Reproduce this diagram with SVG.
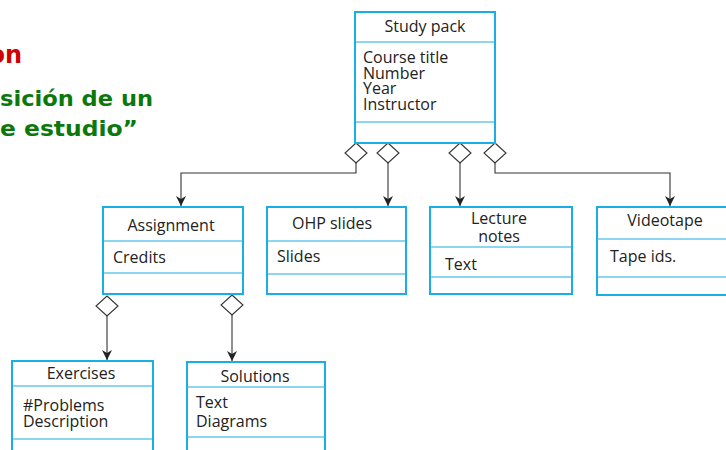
<svg xmlns="http://www.w3.org/2000/svg" width="726" height="450" viewBox="0 0 726 450">
<defs>
<style>
.box{fill:#fff;stroke:#1aaee6;stroke-width:2}
.div{stroke:#1aaee6;stroke-width:1.2;fill:none}
.t{font-family:"Open Sans","Noto Sans","Liberation Sans",sans-serif;font-size:16px;fill:#222}
.c{text-anchor:middle}
.ln{fill:none;stroke:#333;stroke-width:1.1}
.dia{fill:#fff;stroke:#333;stroke-width:1.1}
.ttl{font-family:"DejaVu Sans",Verdana,sans-serif;font-weight:bold}
</style>
<marker id="arr" viewBox="0 0 10 16" refX="10" refY="8" markerWidth="10" markerHeight="16" markerUnits="userSpaceOnUse" orient="auto">
<path d="M0,3 L10,8 L0,13 L3,8 Z" fill="#222"/>
</marker>
</defs>
<rect width="726" height="450" fill="#fff"/>

<text class="ttl" x="22" y="63" font-size="24" fill="#d00000" text-anchor="end">on</text>
<text class="ttl" x="0" y="106" font-size="21" fill="#0b780b" textLength="153" lengthAdjust="spacingAndGlyphs">sición de un</text>
<text class="ttl" x="0" y="136" font-size="21" fill="#0b780b" textLength="138" lengthAdjust="spacingAndGlyphs">e estudio”</text>

<g id="connectors">
<polygon class="dia" points="356,143 367,153 356,163 345,153"/>
<polyline class="ln" points="356,163 356,173 181,173 181,206" marker-end="url(#arr)"/>
<polygon class="dia" points="388,143 399,153 388,163 377,153"/>
<line class="ln" x1="388" y1="163" x2="388" y2="206" marker-end="url(#arr)"/>
<polygon class="dia" points="460,143 471,153 460,163 449,153"/>
<line class="ln" x1="460" y1="163" x2="460" y2="206" marker-end="url(#arr)"/>
<polygon class="dia" points="495,143 506,153 495,163 484,153"/>
<polyline class="ln" points="495,163 495,173 670,173 670,206" marker-end="url(#arr)"/>
<polygon class="dia" points="107,296 118,306 107,316 96,306"/>
<line class="ln" x1="107" y1="316" x2="107" y2="360" marker-end="url(#arr)"/>
<polygon class="dia" points="232,295 243,305 232,315 221,305"/>
<line class="ln" x1="232" y1="315" x2="232" y2="361" marker-end="url(#arr)"/>
</g>

<g id="study-pack">
<rect class="box" x="355" y="12" width="140" height="131"/>
<line class="div" x1="355" y1="42" x2="495" y2="42"/>
<line class="div" x1="355" y1="122" x2="495" y2="122"/>
<text class="t c" x="425" y="32">Study pack</text>
<text class="t" x="363" y="63">Course title</text>
<text class="t" x="363" y="78.5">Number</text>
<text class="t" x="363" y="94">Year</text>
<text class="t" x="363" y="109.5">Instructor</text>
</g>

<g id="assignment">
<rect class="box" x="103" y="207" width="140" height="87"/>
<line class="div" x1="103" y1="241" x2="243" y2="241"/>
<line class="div" x1="103" y1="273" x2="243" y2="273"/>
<text class="t c" x="171" y="231">Assignment</text>
<text class="t" x="113" y="263">Credits</text>
</g>

<g id="ohp-slides">
<rect class="box" x="267" y="207" width="139" height="87"/>
<line class="div" x1="267" y1="241" x2="406" y2="241"/>
<line class="div" x1="267" y1="274" x2="406" y2="274"/>
<text class="t c" x="332" y="229">OHP slides</text>
<text class="t" x="277" y="262">Slides</text>
</g>

<g id="lecture-notes">
<rect class="box" x="430" y="207" width="142" height="87"/>
<line class="div" x1="430" y1="247" x2="572" y2="247"/>
<line class="div" x1="430" y1="277" x2="572" y2="277"/>
<text class="t c" x="499" y="224">Lecture</text>
<text class="t c" x="499" y="242">notes</text>
<text class="t" x="445" y="270">Text</text>
</g>

<g id="videotape">
<rect class="box" x="597" y="207" width="140" height="88"/>
<line class="div" x1="597" y1="239" x2="737" y2="239"/>
<line class="div" x1="597" y1="277" x2="737" y2="277"/>
<text class="t c" x="665" y="226">Videotape</text>
<text class="t" x="610" y="262">Tape ids.</text>
</g>

<g id="exercises">
<rect class="box" x="12" y="361" width="141" height="100"/>
<line class="div" x1="12" y1="386" x2="153" y2="386"/>
<line class="div" x1="12" y1="439" x2="153" y2="439"/>
<text class="t c" x="81" y="379">Exercises</text>
<text class="t" x="23" y="411">#Problems</text>
<text class="t" x="23" y="427">Description</text>
</g>

<g id="solutions">
<rect class="box" x="187" y="362" width="138" height="100"/>
<line class="div" x1="187" y1="387" x2="325" y2="387"/>
<line class="div" x1="187" y1="437" x2="325" y2="437"/>
<text class="t c" x="255" y="382">Solutions</text>
<text class="t" x="196" y="408">Text</text>
<text class="t" x="196" y="427">Diagrams</text>
</g>
</svg>
